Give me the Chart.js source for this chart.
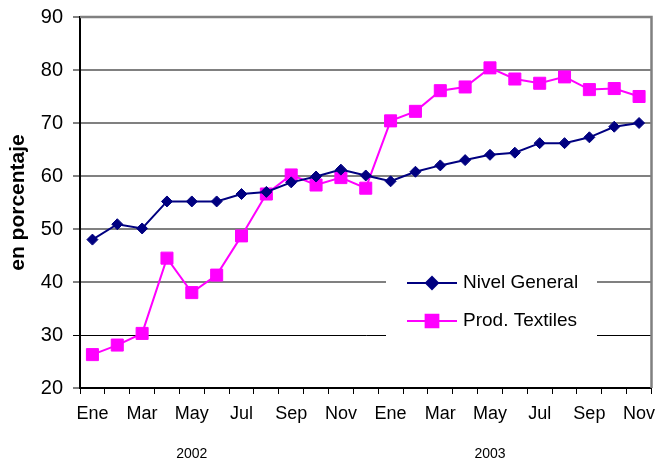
<!DOCTYPE html>
<html>
<head>
<meta charset="utf-8">
<script src="https://cdn.jsdelivr.net/npm/chart.js@4"></script>
<style>
  html, body { margin: 0; padding: 0; background: #fff; }
  #wrap { width: 661px; height: 466px; }
</style>
</head>
<body>
<div id="wrap"><canvas id="chart" width="661" height="466"></canvas></div>
<script>
const months = ['Ene', 'Feb', 'Mar', 'Abr', 'May', 'Jun', 'Jul', 'Ago', 'Sep', 'Oct', 'Nov', 'Dic',
                'Ene', 'Feb', 'Mar', 'Abr', 'May', 'Jun', 'Jul', 'Ago', 'Sep', 'Oct', 'Nov'];
const years = ['2002', '2003'];
const yearAt = [4, 16];
const nivelGeneral = [48.0, 50.9, 50.1, 55.2, 55.2, 55.2, 56.6, 57.0, 58.8, 59.9, 61.2, 60.1,
                      59.0, 60.8, 62.0, 63.0, 64.0, 64.4, 66.2, 66.2, 67.3, 69.3, 70.0];
const prodTextiles = [26.3, 28.1, 30.3, 44.5, 38.0, 41.3, 48.7, 56.6, 60.2, 58.3, 59.7, 57.7,
                      70.4, 72.2, 76.1, 76.8, 80.4, 78.3, 77.5, 78.7, 76.3, 76.5, 75.0];
const yMin = 20, yMax = 90, yStep = 10;

const NAVY = '#000080';
const MAGENTA = '#FF00FF';
const FONT = 'Arial, "Liberation Sans", sans-serif';

// frame, legend box and year labels
const extras = {
    id: 'extras',
    beforeDatasetsDraw(chart) {
        const { ctx } = chart;
        ctx.save();
        ctx.fillStyle = '#fff';
        ctx.fillRect(386, 262, 211, 80);
        ctx.restore();
    },
    afterDraw(chart) {
        const { ctx, chartArea: a, scales } = chart;
        ctx.save();
        ctx.strokeStyle = '#808080';
        ctx.lineWidth = 2.5;
        ctx.beginPath();
        ctx.moveTo(a.left, a.top);
        ctx.lineTo(a.right, a.top);
        ctx.lineTo(a.right, a.bottom);
        ctx.stroke();

        // legend
        const items = [
            { label: 'Nivel General', color: NAVY, style: 'rectRot', r: 6, y: 283 },
            { label: 'Prod. Textiles', color: MAGENTA, style: 'rect', r: 9, y: 321 }
        ];
        items.forEach(it => {
            ctx.strokeStyle = it.color;
            ctx.lineWidth = 2;
            ctx.beginPath();
            ctx.moveTo(407, it.y);
            ctx.lineTo(457, it.y);
            ctx.stroke();
            ctx.fillStyle = it.color;
            Chart.helpers.drawPoint(ctx, { pointStyle: it.style, radius: it.r, borderWidth: 1 }, 432, it.y);
            ctx.fill();
            ctx.fillStyle = '#000';
            ctx.font = '19px ' + FONT;
            ctx.textBaseline = 'middle';
            ctx.textAlign = 'left';
            ctx.fillText(it.label, 463, it.y);
        });

        // year labels
        ctx.font = '14px ' + FONT;
        ctx.textAlign = 'center';
        ctx.textBaseline = 'middle';
        ctx.fillStyle = '#000';
        years.forEach((yr, i) => {
            ctx.fillText(yr, scales.x.getPixelForValue(yearAt[i]), 454);
        });
        ctx.restore();
    }
};

new Chart(document.getElementById('chart'), {
    type: 'line',
    data: {
        labels: months,
        datasets: [
            {
                label: 'Nivel General',
                data: nivelGeneral,
                borderColor: NAVY,
                backgroundColor: NAVY,
                borderWidth: 2,
                pointStyle: 'rectRot',
                pointRadius: 5.5,
                pointBorderWidth: 1,
                tension: 0
            },
            {
                label: 'Prod. Textiles',
                data: prodTextiles,
                borderColor: MAGENTA,
                backgroundColor: MAGENTA,
                borderWidth: 2,
                pointStyle: 'rect',
                pointRadius: 8.5,
                pointBorderWidth: 1,
                tension: 0
            }
        ]
    },
    options: {
        responsive: false,
        animation: false,
        layout: { padding: { top: 17, right: 7, left: 0, bottom: 0 } },
        plugins: { legend: { display: false }, tooltip: { enabled: false } },
        scales: {
            x: {
                offset: true,
                grid: { offset: true, drawOnChartArea: false, drawTicks: true, tickLength: 6, color: '#000', lineWidth: 1 },
                border: { color: '#000', width: 2 },
                ticks: {
                    autoSkip: false,
                    maxRotation: 0,
                    padding: 9,
                    color: '#000',
                    font: { family: FONT, size: 18 },
                    callback: (v, i) => i % 2 === 0 ? months[i] : ''
                },
                afterFit: s => {
                    s.height = 78;
                    s.paddingLeft = 0;
                    s.paddingRight = 0;
                }
            },
            y: {
                min: yMin,
                max: yMax,
                ticks: {
                    stepSize: yStep,
                    padding: 10,
                    color: '#000',
                    font: { family: FONT, size: 20 }
                },
                grid: {
                    tickLength: 7,
                    color: c => c.tick && c.tick.value === 30 ? '#000' : '#808080',
                    lineWidth: c => c.tick && c.tick.value === 30 ? 1 : 2,
                    tickColor: '#000',
                    tickWidth: 1
                },
                border: { color: '#000', width: 2 },
                title: {
                    display: true,
                    text: 'en porcentaje',
                    color: '#000',
                    padding: { top: 6, bottom: 0 },
                    font: { family: FONT, size: 21, weight: 'bold' }
                },
                afterFit: s => {
                    s.width = 80;
                    s.paddingTop = 0;
                    s.paddingBottom = 0;
                }
            }
        }
    },
    plugins: [extras]
});
</script>
</body>
</html>
